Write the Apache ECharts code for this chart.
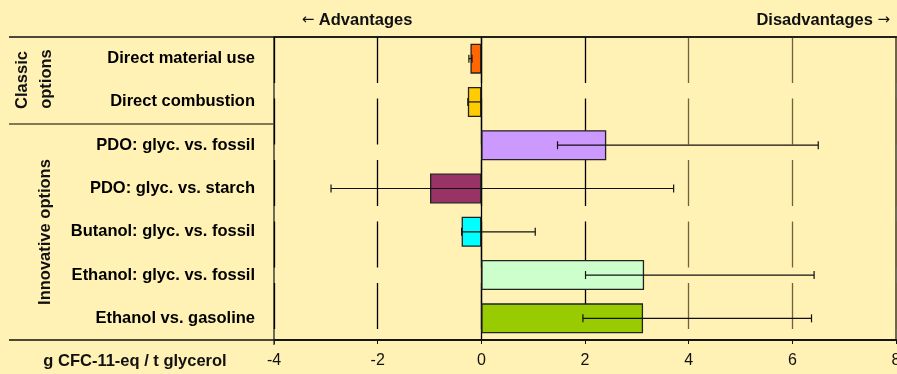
<!DOCTYPE html>
<html>
<head>
<meta charset="utf-8">
<script src="https://cdn.jsdelivr.net/npm/echarts@6/dist/echarts.min.js"></script>
<style>
  html, body { margin: 0; padding: 0; background: #FFF2B4; }
  #chart { width: 897px; height: 374px; }
</style>
</head>
<body>
<div id="chart"></div>
<script>
// Ozone depletion results per use option (g CFC-11-eq per tonne glycerol)
const categories = [
  'Direct material use',
  'Direct combustion',
  'PDO: glyc. vs. fossil',
  'PDO: glyc. vs. starch',
  'Butanol: glyc. vs. fossil',
  'Ethanol: glyc. vs. fossil',
  'Ethanol vs. gasoline'
];
const values = [-0.21, -0.26, 2.41, -0.99, -0.38, 3.14, 3.12];
const errorLow = [-0.24, -0.26, 1.47, -2.9, -0.38, 2.01, 1.96];
const errorHigh = [-0.18, 0, 6.5, 3.71, 1.04, 6.42, 6.37];
const barColors = ['#FF6600', '#FFCC00', '#CC99FF', '#993366', '#00FFFF', '#CCFFCC', '#99CC00'];
const xTicks = { min: -4, max: 8, interval: 2 };

const chart = echarts.init(document.getElementById('chart'), null, { renderer: 'canvas' });

const FONT = '"Liberation Sans", Arial, sans-serif';
const ARROW_FONT = '"DejaVu Sans", sans-serif';
const BOLD = 16.5;
const NORMAL = 16;

const barData = values.map((v, i) => ({
  value: v,
  itemStyle: { color: barColors[i] }
}));
const errData = categories.map((c, i) => [i, errorLow[i], errorHigh[i]]);

chart.setOption({
  backgroundColor: '#FFF2B4',
  animation: false,
  grid: {
    left: 274, right: 1, top: 37, bottom: 34,
    containLabel: false,
    outerBoundsMode: 'none',
    show: true, borderColor: '#222', borderWidth: 1.3, backgroundColor: 'transparent'
  },
  xAxis: {
    type: 'value',
    min: xTicks.min, max: xTicks.max, interval: xTicks.interval,
    axisLine: { show: true, lineStyle: { color: '#111', width: 1.5 } },
    axisTick: { show: true, length: 4, lineStyle: { color: '#111' } },
    axisLabel: { color: '#111', fontFamily: FONT, fontSize: NORMAL, margin: 13 },
    splitLine: {
      show: true,
      lineStyle: {
        color: ['#000', '#000', '#000', '#000', '#6e6240', '#6e6240', '#6e6240'],
        width: 1.3,
        type: [46, 15.5]
      }
    }
  },
  yAxis: {
    type: 'category',
    data: categories,
    inverse: true,
    axisLine: { show: true, onZero: true, lineStyle: { color: '#000', width: 1.3 } },
    axisTick: { show: false },
    axisLabel: { color: '#000', fontFamily: FONT, fontSize: BOLD, fontWeight: 'bold', margin: 19 },
    splitLine: { show: false }
  },
  series: [
    {
      type: 'bar',
      data: barData,
      barWidth: 30,
      itemStyle: { borderColor: '#222', borderWidth: 1.3 },
      z: 3
    },
    {
      type: 'custom',
      data: errData,
      z: 4,
      renderItem: function (params, api) {
        const cat = api.value(0);
        const lo = api.coord([api.value(1), cat]);
        const hi = api.coord([api.value(2), cat]);
        const h = 4;
        const style = { stroke: '#111', lineWidth: 1.2 };
        return {
          type: 'group',
          children: [
            { type: 'line', shape: { x1: lo[0], y1: lo[1], x2: hi[0], y2: hi[1] }, style },
            { type: 'line', shape: { x1: lo[0], y1: lo[1] - h, x2: lo[0], y2: lo[1] + h }, style },
            { type: 'line', shape: { x1: hi[0], y1: hi[1] - h, x2: hi[0], y2: hi[1] + h }, style }
          ]
        };
      }
    }
  ],
  graphic: [
    // frame lines running out to the left label column
    { type: 'line', shape: { x1: 9, y1: 37, x2: 897, y2: 37 }, style: { stroke: '#111', lineWidth: 1.3 }, z: 10 },
    { type: 'line', shape: { x1: 9, y1: 340, x2: 897, y2: 340 }, style: { stroke: '#111', lineWidth: 1.5 }, z: 10 },
    { type: 'line', shape: { x1: 9, y1: 124, x2: 274, y2: 124 }, style: { stroke: '#5a5236', lineWidth: 1.5 }, z: 10 },
    { type: 'line', shape: { x1: 274, y1: 340, x2: 274, y2: 345 }, style: { stroke: '#333', lineWidth: 1.3 }, z: 10 },
    // header
    {
      type: 'text', x: 357, y: 20,
      style: {
        text: '{a|←} Advantages', font: 'bold ' + BOLD + 'px ' + FONT, fill: '#111',
        align: 'center', verticalAlign: 'middle',
        rich: { a: { fontFamily: ARROW_FONT, fontSize: 15, fontWeight: 'normal', fill: '#111' } }
      }
    },
    {
      type: 'text', x: 890, y: 20,
      style: {
        text: 'Disadvantages {a|→}', font: 'bold ' + BOLD + 'px ' + FONT, fill: '#111',
        align: 'right', verticalAlign: 'middle',
        rich: { a: { fontFamily: ARROW_FONT, fontSize: 15, fontWeight: 'normal', fill: '#111' } }
      }
    },
    // group labels
    { type: 'text', x: 22, y: 80, rotation: Math.PI / 2, style: { text: 'Classic', font: 'bold ' + BOLD + 'px ' + FONT, fill: '#111', align: 'center', verticalAlign: 'middle' } },
    { type: 'text', x: 46, y: 79, rotation: Math.PI / 2, style: { text: 'options', font: 'bold ' + BOLD + 'px ' + FONT, fill: '#111', align: 'center', verticalAlign: 'middle' } },
    { type: 'text', x: 45.5, y: 232, rotation: Math.PI / 2, style: { text: 'Innovative options', font: 'bold ' + BOLD + 'px ' + FONT, fill: '#111', align: 'center', verticalAlign: 'middle' } },
    // unit
    { type: 'text', x: 135, y: 361, style: { text: 'g CFC-11-eq / t glycerol', font: 'bold ' + BOLD + 'px ' + FONT, fill: '#111', align: 'center', verticalAlign: 'middle' } }
  ]
});
</script>
</body>
</html>
